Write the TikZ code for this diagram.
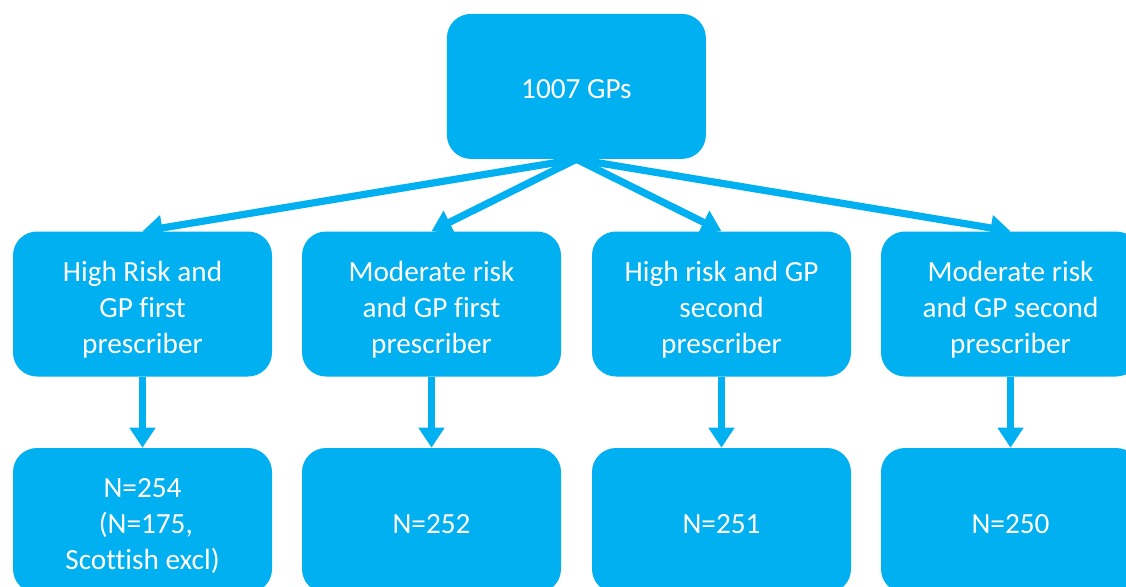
\documentclass[tikz,border=0pt]{standalone}
\usepackage{fontspec}
\setmainfont{Carlito}[Ligatures=CommonOff]
\usetikzlibrary{arrows.meta}
\definecolor{gpblue}{RGB}{0,176,240}
\newcommand{\boxstrut}[1][22pt]{\rule{0pt}{#1}}
\begin{document}
\begin{tikzpicture}
    \tikzset{box/.style = {shape=rectangle, rounded corners=0.6cm, fill=gpblue, text=white,
        minimum width=6.475cm, minimum height=3.625cm, align=center,
        font=\fontsize{20.8}{25.6}\selectfont}}
    \tikzset{link/.style = {draw=gpblue, line width=0.18cm, -{Triangle[width=0.62cm,length=0.5cm]}}}
    \clip (0,0) rectangle (28.15,-14.65);
    \useasboundingbox (0,0) rectangle (28.15,-14.65);
    \node[box] (top) at (14.41,-2.16) {\boxstrut[18pt]1007 GPs};
    \node[box] (hr1) at (3.5625,-7.6) {\boxstrut High Risk and\\GP first\\prescriber};
    \node[box] (mr1) at (10.7875,-7.6) {\boxstrut Moderate risk\\and GP first\\prescriber};
    \node[box] (hr2) at (18.0375,-7.6) {\boxstrut High risk and GP\\second\\prescriber};
    \node[box] (mr2) at (25.2625,-7.6) {\boxstrut Moderate risk\\and GP second\\prescriber};
    \node[box] (n1) at (3.5625,-13.0125) {\boxstrut N=254\\\ (N=175,\\Scottish excl)};
    \node[box] (n2) at (10.7875,-13.0125) {\boxstrut[18pt]N=252};
    \node[box] (n3) at (18.0375,-13.0125) {\boxstrut[18pt]N=251};
    \node[box] (n4) at (25.2625,-13.0125) {\boxstrut[18pt]N=250};
    \draw[link] (top.south) -- (hr1.north);
    \draw[link] (top.south) -- (mr1.north);
    \draw[link] (top.south) -- (hr2.north);
    \draw[link] (top.south) -- (mr2.north);
    \draw[link] (hr1.south) -- (n1.north);
    \draw[link] (mr1.south) -- (n2.north);
    \draw[link] (hr2.south) -- (n3.north);
    \draw[link] (mr2.south) -- (n4.north);
\end{tikzpicture}
\end{document}
